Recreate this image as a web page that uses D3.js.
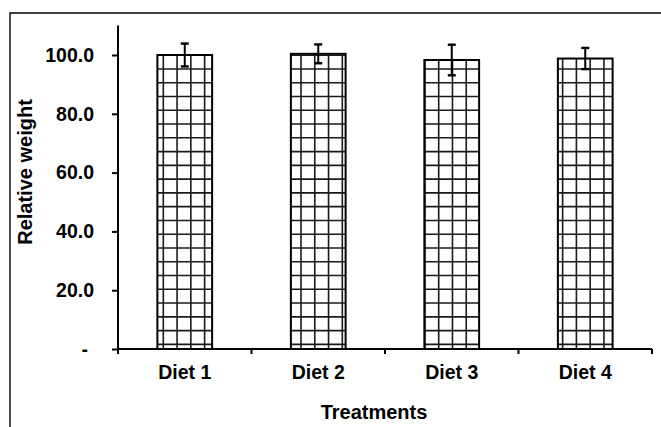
<!DOCTYPE html>
<html>
<head>
<meta charset="utf-8">
<script src="https://cdn.jsdelivr.net/npm/d3@7"></script>
<style>
  body { margin: 0; background: #fff; }
  svg { display: block; }
  text { font-family: "Liberation Sans", Arial, sans-serif; font-weight: bold; fill: #000; }
</style>
</head>
<body>
<div class="chart"></div>
<script>
// data
var diets = ['Diet 1', 'Diet 2', 'Diet 3', 'Diet 4'];
var weights = [100.0, 100.4, 98.3, 98.8];
var errors = [3.9, 3.2, 5.2, 3.6];
var yTicks = [0, 20, 40, 60, 80, 100];

const svg = d3.select('.chart').append('svg')
		.attr('width', 661)
		.attr('height', 427),
	defs = svg.append('defs');

var left = 118, right = 652, base = 349, perUnit = 2.94;

var x = d3.scaleBand()
	.domain(diets)
	.range([left, right])
	.paddingInner(0.59)
	.paddingOuter(0.295);

var y = d3.scaleLinear()
	.domain([0, 110])
	.range([base, base - 110 * perUnit]);

// outer frame (only left/top fall inside the picture)
svg.append('path')
	.attr('d', 'M10,440V13H670')
	.attr('fill', 'none')
	.attr('stroke', '#000')
	.attr('stroke-width', 1.4);

var rows = diets.map(function(d, i) {
	return { name: d, value: weights[i], err: errors[i], id: i };
});

// grid hatch (excel "large grid"), anchored to the page, clipped to each bar
var cell = 13.77, gx0 = 163.3, gy0 = 55.2;

defs.selectAll('.bar-clip')
	.data(rows)
	.join('clipPath')
	.attr('class', 'bar-clip')
	.attr('id', d => 'bar-clip-' + d.id)
	.append('rect')
	.attr('x', d => x(d.name))
	.attr('y', d => y(d.value))
	.attr('width', x.bandwidth())
	.attr('height', d => y(0) - y(d.value));

svg.selectAll('.bar-bg')
	.data(rows)
	.join('rect')
	.attr('class', 'bar-bg')
	.attr('x', d => x(d.name))
	.attr('y', d => y(d.value))
	.attr('width', x.bandwidth())
	.attr('height', d => y(0) - y(d.value))
	.attr('fill', '#fff');

var hatch = svg.selectAll('.hatch')
	.data(rows)
	.join('g')
	.attr('class', 'hatch')
	.attr('clip-path', d => 'url(#bar-clip-' + d.id + ')')
	.attr('stroke', '#1a1a1a')
	.attr('stroke-width', 1.6);

hatch.selectAll('.vl')
	.data(function(d) {
		var x0 = x(d.name), x1 = x0 + x.bandwidth(), out = [];
		var k = Math.floor((x0 - gx0) / cell);
		for (var gx = gx0 + k * cell; gx <= x1 + 1; gx += cell) out.push({ gx: gx, d: d });
		return out;
	})
	.join('line')
	.attr('class', 'vl')
	.attr('x1', o => o.gx).attr('x2', o => o.gx)
	.attr('y1', o => y(o.d.value)).attr('y2', base);

hatch.selectAll('.hl')
	.data(function(d) {
		var y0 = y(d.value), out = [];
		var k = Math.floor((y0 - gy0) / cell);
		for (var gy = gy0 + k * cell; gy <= base + 1; gy += cell) out.push({ gy: gy, d: d });
		return out;
	})
	.join('line')
	.attr('class', 'hl')
	.attr('y1', o => o.gy).attr('y2', o => o.gy)
	.attr('x1', o => x(o.d.name)).attr('x2', o => x(o.d.name) + x.bandwidth());

svg.selectAll('.bar')
	.data(rows)
	.join('rect')
	.attr('class', 'bar')
	.attr('x', d => x(d.name))
	.attr('y', d => y(d.value))
	.attr('width', x.bandwidth())
	.attr('height', d => y(0) - y(d.value))
	.attr('fill', 'none')
	.attr('stroke', '#000')
	.attr('stroke-width', 2);

// error bars
var eb = svg.selectAll('.err')
	.data(rows)
	.join('g')
	.attr('class', 'err')
	.attr('stroke', '#000');

eb.append('line')
	.attr('x1', d => x(d.name) + x.bandwidth() / 2)
	.attr('x2', d => x(d.name) + x.bandwidth() / 2)
	.attr('y1', d => y(d.value + d.err))
	.attr('y2', d => y(d.value - d.err))
	.attr('stroke-width', 2);

[1, -1].forEach(function(s) {
	eb.append('line')
		.attr('x1', d => x(d.name) + x.bandwidth() / 2 - 4)
		.attr('x2', d => x(d.name) + x.bandwidth() / 2 + 4)
		.attr('y1', d => y(d.value + s * d.err))
		.attr('y2', d => y(d.value + s * d.err))
		.attr('stroke-width', 2.4);
});

// y axis
var yAxis = svg.append('g')
	.attr('transform', 'translate(' + left + ',0)')
	.call(d3.axisLeft(y)
		.tickValues(yTicks)
		.tickSize(6)
		.tickPadding(18)
		.tickFormat(d => d === 0 ? '-' : d3.format('.1f')(d)));
yAxis.select('.domain')
	.attr('d', 'M0,' + y(110) + 'V' + base)
	.attr('stroke-width', 2);
yAxis.selectAll('.tick line').attr('stroke-width', 2);
yAxis.selectAll('.tick text')
	.style('font-size', '19.5px')
	.attr('dx', d => d === 0 ? -6 : 0);

// x axis, ticks between categories
var xAxis = svg.append('g').attr('transform', 'translate(0,' + base + ')');
xAxis.append('line')
	.attr('x1', left).attr('x2', right)
	.attr('stroke', '#000').attr('stroke-width', 2);
var bounds = d3.range(diets.length + 1).map(i => left + i * x.step());
xAxis.selectAll('.xtick')
	.data(bounds)
	.join('line')
	.attr('class', 'xtick')
	.attr('x1', d => d).attr('x2', d => d)
	.attr('y1', 0).attr('y2', 5)
	.attr('stroke', '#000').attr('stroke-width', 2);
xAxis.selectAll('.xlabel')
	.data(diets)
	.join('text')
	.attr('class', 'xlabel')
	.attr('x', d => x(d) + x.bandwidth() / 2)
	.attr('y', 30)
	.attr('text-anchor', 'middle')
	.style('font-size', '19.5px')
	.text(d => d);

// titles
svg.append('text')
	.attr('x', 374)
	.attr('y', 419)
	.attr('text-anchor', 'middle')
	.style('font-size', '20px')
	.text('Treatments');

svg.append('text')
	.attr('transform', 'translate(32,172) rotate(-90)')
	.attr('text-anchor', 'middle')
	.style('font-size', '20px')
	.text('Relative weight');
</script>
</body>
</html>
